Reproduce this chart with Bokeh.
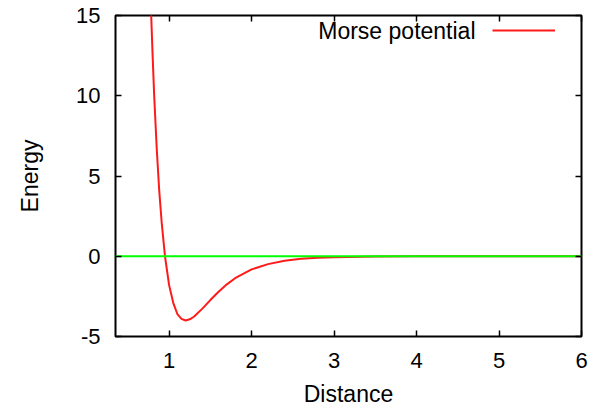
from bokeh.plotting import figure
from bokeh.models import LinearAxis, Label, Legend, LegendItem, Range1d, FixedTicker
from bokeh.embed import file_html
from bokeh.resources import INLINE

# Morse potential values
distance = [0.78, 0.80, 0.82, 0.85, 0.88, 0.91, 0.95, 1.00, 1.05, 1.10, 1.15, 1.20,
            1.25, 1.30, 1.40, 1.50, 1.60, 1.70, 1.80, 2.00, 2.20, 2.40, 2.60, 2.80,
            3.00, 3.50, 4.00, 5.00, 6.00]
energy = [15.4, 12.5, 9.9, 6.7, 4.1, 2.1, 0.0, -1.8, -2.9, -3.6, -3.9, -4.0,
          -3.93, -3.77, -3.28, -2.73, -2.21, -1.75, -1.37, -0.82, -0.49, -0.28, -0.16, -0.095,
          -0.055, -0.014, -0.003, 0.0, 0.0]
zero_x = [0.35, 6.0]
zero_y = [0.0, 0.0]
x_ticks = [1, 2, 3, 4, 5, 6]
y_ticks = [-5, 0, 5, 10, 15]
series_name = "Morse potential"

FONT = "Liberation Sans"
TICK_FS = "22px"
LABEL_FS = "23px"

p = figure(width=592, height=409, output_backend="svg", toolbar_location=None,
           x_range=Range1d(0.35, 6.0), y_range=Range1d(-5, 15),
           min_border_left=115, min_border_right=11, min_border_top=15, min_border_bottom=71,
           x_axis_label="Distance", y_axis_label="Energy")
p.grid.visible = False
p.outline_line_color = "black"
p.outline_line_width = 2
p.background_fill_color = "white"
p.border_fill_color = "white"

for ax in p.xaxis + p.yaxis:
    ax.axis_line_color = None
    ax.major_tick_in = 6
    ax.major_tick_out = 0
    ax.major_tick_line_width = 1.5
    ax.minor_tick_line_color = None
    ax.major_label_text_font = FONT
    ax.major_label_text_font_size = TICK_FS
    ax.major_label_text_color = "black"
    ax.axis_label_text_font = FONT
    ax.axis_label_text_font_size = LABEL_FS
    ax.axis_label_text_font_style = "normal"
    ax.axis_label_text_color = "black"

p.xaxis.ticker = FixedTicker(ticks=x_ticks)
p.yaxis.ticker = FixedTicker(ticks=y_ticks)
p.yaxis.major_label_overrides = {t: str(t) for t in y_ticks}
p.xaxis.major_label_standoff = 16
p.yaxis.major_label_standoff = 15
p.xaxis.axis_label_standoff = 10
p.yaxis.axis_label_standoff = 30

# mirrored ticks on top and right
for loc, tk in (("above", x_ticks), ("right", y_ticks)):
    a = LinearAxis(ticker=FixedTicker(ticks=tk))
    a.axis_line_color = None
    a.major_tick_in = 6
    a.major_tick_out = 0
    a.major_tick_line_width = 1.5
    a.minor_tick_line_color = None
    a.major_label_overrides = {t: "" for t in tk}
    a.major_label_standoff = 0
    p.add_layout(a, loc)

curve = p.line(distance, energy, line_color="#ff1a1a", line_width=2)
p.line(zero_x, zero_y, line_color="#00ff00", line_width=2)

# legend: text then sample line (gnuplot style)
p.add_layout(Label(x=360, y=306, x_units="screen", y_units="screen", text=series_name,
                   text_font=FONT, text_font_size=LABEL_FS, text_color="black",
                   text_align="right", text_baseline="middle"))
leg = Legend(items=[LegendItem(label=" ", renderers=[curve])], location=(377, 296),
             glyph_width=63, glyph_height=20, label_height=20, label_width=1,
             padding=0, margin=0, spacing=0, label_standoff=0,
             border_line_color=None, background_fill_alpha=0)
p.add_layout(leg, "center")

open("out.html", "w").write(file_html(p, INLINE))
